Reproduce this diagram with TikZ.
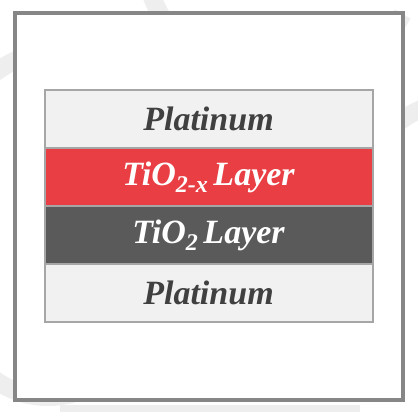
\documentclass[tikz,border=0pt]{standalone}
\usepackage{fontspec}
\setmainfont{Liberation Serif}
\usetikzlibrary{positioning}
\definecolor{tiored}{HTML}{E93E44}
\definecolor{tiogray}{HTML}{5A5A5A}
\definecolor{ptgray}{HTML}{F1F1F1}
\definecolor{swirl}{HTML}{EEEEEE}
\newcommand{\lowsub}[1]{\raisebox{-7pt}{\fontsize{24}{26}\selectfont #1}}
\tikzset{
	layer/.style={draw=gray!70, line width=2pt, minimum width=328pt, minimum height=58pt, inner sep=0pt, outer sep=0pt, font=\fontsize{34}{36}\selectfont\bfseries\itshape},
	ptlayer/.style={layer, fill=ptgray, text=black!75},
}
\begin{document}
\begin{tikzpicture}[x=1pt, y=1pt]
			\useasboundingbox (0,0) rectangle (418,412);
			\fill[white] (0,0) rectangle (418,412);
			% faint swirls behind the frame
			\begin{scope}[swirl, line width=18pt]
				\draw (-40,300) arc (150:40:130);
				\draw (150,420) arc (200:330:140);
				\draw (-30,60) arc (210:300:90);
				\draw (370,250) arc (160:80:90);
				\draw (60,-2) -- (360,-2);
			\end{scope}
			\draw[gray!95, line width=4pt, fill=white] (15,12) rectangle (403,399);
			\node[ptlayer] (pttop) at (208.5,293) {Platinum};
			\node[layer, fill=tiored, text=white, below=0pt of pttop] (tiox) {TiO\lowsub{2-x}\,Layer};
			\node[layer, fill=tiogray, text=white, below=0pt of tiox] (tio) {TiO\lowsub{2}\,Layer};
			\node[ptlayer, below=0pt of tio] (ptbot) {Platinum};
		\end{tikzpicture}
\end{document}
